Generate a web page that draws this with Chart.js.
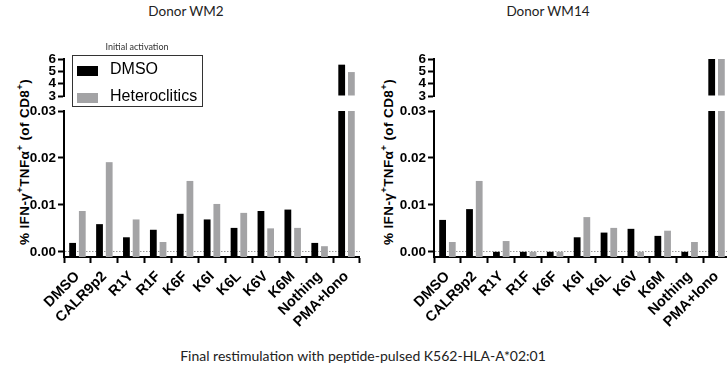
<!DOCTYPE html>
<html>
<head>
<meta charset="utf-8">
<script src="https://cdn.jsdelivr.net/npm/chart.js@4.4.1/dist/chart.umd.min.js"></script>
<style>
  body { margin: 0; width: 727px; height: 370px; overflow: hidden; background: #fff; position: relative; }
  canvas { position: absolute; }
  .txt { position: absolute; white-space: nowrap; color: #222; }
  .donor { top: 3px; font: 13.5px Lato, sans-serif; transform: translateX(-50%); }
  .caption { top: 347px; left: 363px; font: 14px Lato, sans-serif; transform: translateX(-50%); }
  .ytitle { font: bold 13.5px "Liberation Sans", Arial, sans-serif; letter-spacing: 0.4px; color: #000; line-height: 1; transform: translate(-50%, -50%) rotate(-90deg); }
  .ytitle sup { font-size: 9.5px; }
  .legend { position: absolute; left: 72px; top: 55px; width: 129px; height: 50px; border: 1.5px solid #333; background: #fff; }
  .legend-title { position: absolute; left: 137px; top: 41px; font: 9px Lato, sans-serif; color: #333; transform: translateX(-50%); }
  .legend-item { position: absolute; left: 4px; font: 16px "Liberation Sans", Arial, sans-serif; color: #000; }
  .legend-dot { position: absolute; left: 0; top: 3px; width: 21px; height: 10px; }
  .legend-label { position: absolute; left: 33px; top: -3px; white-space: nowrap; }
</style>
</head>
<body>
<div class="txt donor" style="left:186px">Donor WM2</div>
<div class="txt donor" style="left:548px">Donor WM14</div>
<div class="txt caption">Final restimulation with peptide-pulsed K562-HLA-A*02:01</div>
<div class="txt ytitle" style="left:23px; top:162px">% IFN-γ<sup>+</sup>TNFα<sup>+</sup> (of CD8<sup>+</sup>)</div>
<div class="txt ytitle" style="left:387px; top:162px">% IFN-γ<sup>+</sup>TNFα<sup>+</sup> (of CD8<sup>+</sup>)</div>

<canvas id="wm2-upper" width="364" height="68" style="left:0; top:38px"></canvas>
<canvas id="wm2-lower" width="364" height="270" style="left:0; top:100px"></canvas>
<canvas id="wm14-upper" width="364" height="68" style="left:370px; top:38px"></canvas>
<canvas id="wm14-lower" width="364" height="270" style="left:370px; top:100px"></canvas>

<div class="legend-title">Initial activation</div>
<div class="legend" id="legend"></div>

<script>
const categories = ['DMSO', 'CALR9p2', 'R1Y', 'R1F', 'K6F', 'K6I', 'K6L', 'K6V', 'K6M', 'Nothing', 'PMA+Iono'];
const seriesNames = ['DMSO', 'Heteroclitics'];
const seriesColors = ['#000000', '#a3a3a5'];

// Donor WM2
const wm2Dmso = [0.0019, 0.0059, 0.0031, 0.0047, 0.0081, 0.0069, 0.0051, 0.0087, 0.0090, 0.0019, 5.54];
const wm2Hetero = [0.0087, 0.0191, 0.0069, 0.0021, 0.0151, 0.0102, 0.0083, 0.0050, 0.0051, 0.0012, 4.94];
// Donor WM14
const wm14Dmso = [0.0068, 0.0091, 0, 0, 0, 0.0031, 0.0041, 0.0049, 0.0034, 0, 6];
const wm14Hetero = [0.0021, 0.0151, 0.0023, 0, 0, 0.0074, 0.0051, 0, 0.0045, 0.0021, 6];

// broken y axis: two segments
const upperTicks = [3, 4, 5, 6];
const lowerTicks = [0, 0.01, 0.02, 0.03];
const upperMin = 3, upperMax = 6;
const lowerMin = -0.0011, lowerMax = 0.03;

const axisFont = { family: '"Liberation Sans", Arial, sans-serif', weight: 'bold' };

function makeChart(id, dmso, hetero, part) {
  const upper = part === 'upper';
  const pick = v => upper ? (v >= upperMin ? v : null) : v;
  const tickVals = upper ? upperTicks : lowerTicks;
  return new Chart(document.getElementById(id), {
    type: 'bar',
    data: {
      labels: categories,
      datasets: [dmso, hetero].map((vals, i) => ({
        label: seriesNames[i],
        data: vals.map(pick),
        backgroundColor: seriesColors[i],
        borderWidth: 0,
      })),
    },
    options: {
      responsive: false, animation: false,
      layout: { padding: upper ? { top: 21, bottom: 10, left: 0, right: 4 } : { top: 11, bottom: 0, left: 0, right: 4 } },
      plugins: { legend: { display: false }, tooltip: { enabled: false } },
      datasets: { bar: { categoryPercentage: 0.72, barPercentage: 0.7, clip: 0, base: upper ? upperMin : lowerMin } },
      scales: {
        x: {
          display: !upper,
          grid: { drawOnChartArea: false, color: '#000', tickColor: '#000', tickLength: 6, tickWidth: 2 },
          border: { color: '#000', width: 2 },
          ticks: { autoSkip: false, maxRotation: 45, minRotation: 45, color: '#000', padding: 5, font: { ...axisFont, size: 14.5 } },
          afterFit: s => { if (!upper) s.height = 113; },
        },
        y: {
          min: upper ? upperMin : lowerMin,
          max: upper ? upperMax : lowerMax,
          afterBuildTicks: s => { s.ticks = tickVals.map(v => ({ value: v })); },
          afterFit: s => { s.width = 64; },
          grid: {
            drawOnChartArea: !upper,
            color: ctx => (ctx.tick && ctx.tick.value === 0 ? '#9a9a9a' : 'transparent'),
            lineWidth: 1,
            tickColor: '#000', tickLength: 6, tickWidth: 2,
          },
          border: { color: '#000', width: 2, dash: [1.5, 1.5] },
          ticks: {
            autoSkip: false, color: '#000', padding: 2,
            font: { ...axisFont, size: 13.5, lineHeight: 1 },
            callback: v => upper ? String(v) : v.toFixed(2),
          },
        },
      },
    },
  });
}

const charts = [
  makeChart('wm2-upper', wm2Dmso, wm2Hetero, 'upper'),
  makeChart('wm2-lower', wm2Dmso, wm2Hetero, 'lower'),
  makeChart('wm14-upper', wm14Dmso, wm14Hetero, 'upper'),
  makeChart('wm14-lower', wm14Dmso, wm14Hetero, 'lower'),
];

// Legend built from the chart datasets
const legend = document.getElementById('legend');
legend.innerHTML = charts[1].data.datasets.map((d, i) => `
  <div class="legend-item" style="top:${7 + i * 27}px">
    <span class="legend-dot" style="background:${d.backgroundColor}"></span>
    <span class="legend-label">${d.label}</span>
  </div>`).join('');
</script>
</body>
</html>
